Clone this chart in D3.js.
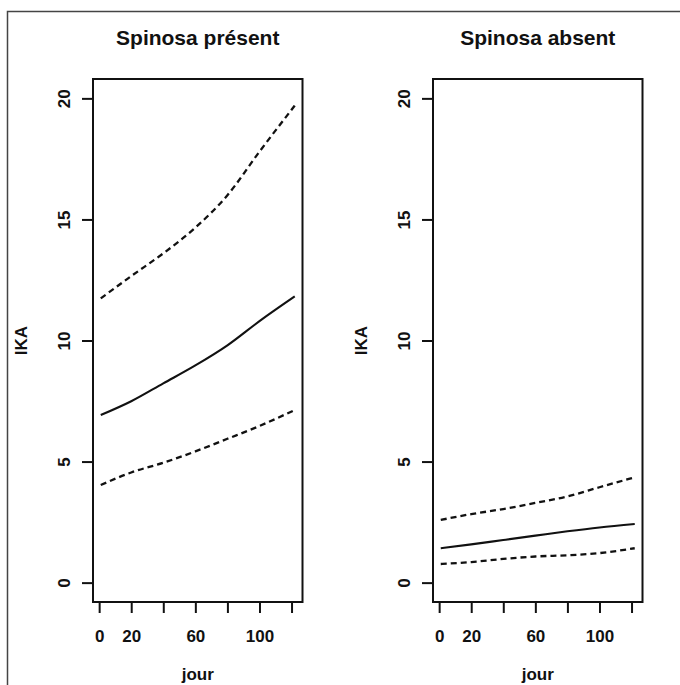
<!DOCTYPE html>
<html>
<head>
<meta charset="utf-8">
<script src="https://cdn.jsdelivr.net/npm/d3@7"></script>
<style>
  html, body { margin: 0; padding: 0; background: #fff; }
  svg { display: block; }
  text { font-family: "Liberation Sans", Arial, sans-serif; fill: #111; }
</style>
</head>
<body>
<script>
const days = [1, 20, 40, 60, 80, 100, 122];
const presentFit   = [6.92, 7.49, 8.23, 8.97, 9.80, 10.80, 11.82];
const presentLower = [4.03, 4.55, 4.95, 5.42, 5.94, 6.47, 7.13];
const presentUpper = [11.74, 12.66, 13.60, 14.66, 16.00, 17.80, 19.70];
const absentFit    = [1.42, 1.58, 1.76, 1.94, 2.12, 2.28, 2.42];
const absentLower  = [0.77, 0.85, 0.98, 1.08, 1.13, 1.22, 1.42];
const absentUpper  = [2.59, 2.83, 3.04, 3.29, 3.56, 3.94, 4.35];
const yTicks = [0, 5, 10, 15, 20];
const xTicks = [0, 20, 40, 60, 80, 100, 120];
const xTickLabels = ["0", "20", "", "60", "", "100", ""];
const panelTitles = ["Spinosa présent", "Spinosa absent"];
const xLabel = "jour";
const yLabel = "IKA";

const W = 680, H = 685;
const svg = d3.select("body").append("svg").attr("width", W).attr("height", H);

// outer frame
svg.append("rect").attr("x", 7.5).attr("y", 11.5).attr("width", 700).attr("height", 700)
  .attr("fill", "none").attr("stroke", "#444").attr("stroke-width", 1.5);

const panels = [
  { left: 93, title: panelTitles[0], fit: presentFit, lo: presentLower, hi: presentUpper },
  { left: 433, title: panelTitles[1], fit: absentFit, lo: absentLower, hi: absentUpper }
];
const plotTop = 79, plotBottom = 602, pw = 209.5;

const xPad = (122 - 1) * 0.04;
const yPad = 20 * 0.04;

panels.forEach(p => {
  const x = d3.scaleLinear().domain([1 - xPad, 122 + xPad]).range([p.left, p.left + pw]);
  const y = d3.scaleLinear().domain([0 - yPad, 20 + yPad]).range([plotBottom, plotTop]);
  const g = svg.append("g");

  // title
  g.append("text").attr("x", p.left + pw / 2).attr("y", 45)
    .attr("text-anchor", "middle").attr("font-size", 21).attr("font-weight", "bold")
    .text(p.title);

  // y axis
  const ya = g.append("g").attr("transform", `translate(${p.left},0)`)
    .call(d3.axisLeft(y).tickValues(yTicks).tickSize(11).tickFormat(d3.format("d")));
  ya.select(".domain").remove();
  ya.selectAll(".tick line").attr("stroke", "#111").attr("stroke-width", 2);
  ya.selectAll(".tick text")
    .attr("transform", "rotate(-90)")
    .attr("x", 0).attr("y", -23.5).attr("dy", 0)
    .attr("text-anchor", "middle")
    .attr("font-size", 17).attr("font-weight", "bold")
    .attr("font-family", "'Liberation Sans', Arial, sans-serif")
    .attr("fill", "#111");

  // x axis
  const xa = g.append("g").attr("transform", `translate(0,${plotBottom})`)
    .call(d3.axisBottom(x).tickValues(xTicks).tickSize(11)
      .tickFormat((d, i) => xTickLabels[i]));
  xa.select(".domain").remove();
  xa.selectAll(".tick line").attr("stroke", "#111").attr("stroke-width", 2);
  xa.selectAll(".tick text")
    .attr("y", 39.5).attr("dy", 0)
    .attr("font-size", 17).attr("font-weight", "bold")
    .attr("font-family", "'Liberation Sans', Arial, sans-serif")
    .attr("fill", "#111");

  // axis labels
  g.append("text").attr("x", p.left + pw / 2).attr("y", 680)
    .attr("text-anchor", "middle").attr("font-size", 17).attr("font-weight", "bold")
    .text(xLabel);
  g.append("text")
    .attr("transform", `translate(${p.left - 66},${(plotTop + plotBottom) / 2}) rotate(-90)`)
    .attr("text-anchor", "middle").attr("font-size", 17).attr("font-weight", "bold")
    .text(yLabel);

  // curves
  const line = d3.line().curve(d3.curveMonotoneX).x((d, i) => x(days[i])).y(d => y(d));
  g.append("path").datum(p.hi).attr("d", line).attr("fill", "none")
    .attr("stroke", "#111").attr("stroke-width", 2.3).attr("stroke-dasharray", "6,4");
  g.append("path").datum(p.lo).attr("d", line).attr("fill", "none")
    .attr("stroke", "#111").attr("stroke-width", 2.3).attr("stroke-dasharray", "6,4");
  g.append("path").datum(p.fit).attr("d", line).attr("fill", "none")
    .attr("stroke", "#111").attr("stroke-width", 2.1);

  // box
  g.append("rect").attr("x", p.left).attr("y", plotTop).attr("width", pw).attr("height", plotBottom - plotTop)
    .attr("fill", "none").attr("stroke", "#111").attr("stroke-width", 2);
});
</script>
</body>
</html>
